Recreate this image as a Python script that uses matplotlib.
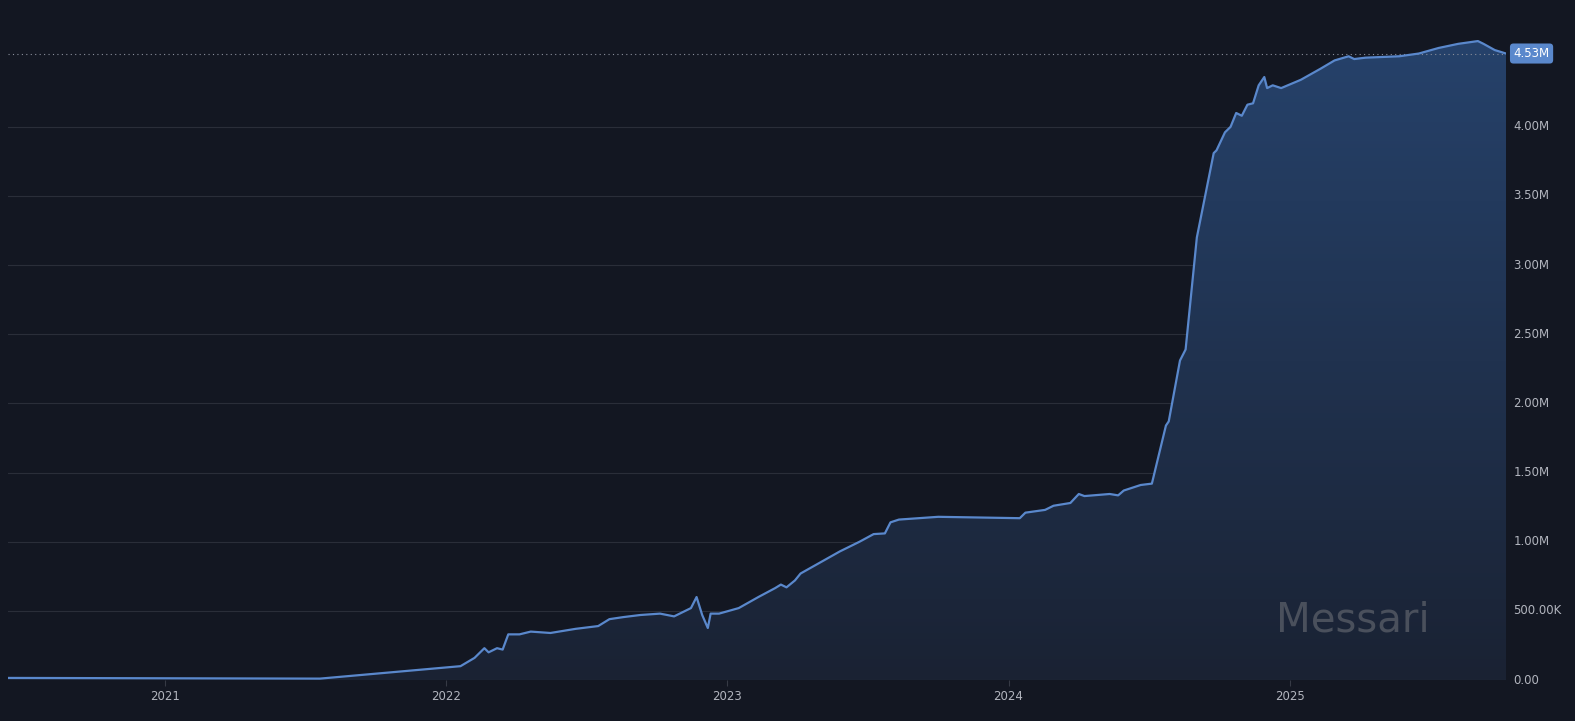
import numpy as np
import matplotlib.pyplot as plt
from matplotlib.patches import Polygon
from matplotlib.colors import LinearSegmentedColormap

# decimal years and values (millions)
years = [2020.44, 2021.55, 2022.05, 2022.10, 2022.135, 2022.15, 2022.18, 2022.20, 2022.22,
         2022.26, 2022.30, 2022.37, 2022.46, 2022.54, 2022.58, 2022.63, 2022.69, 2022.76,
         2022.81, 2022.85, 2022.87, 2022.89, 2022.91, 2022.93, 2022.94, 2022.97, 2023.04,
         2023.11, 2023.17, 2023.19, 2023.21, 2023.24, 2023.26, 2023.33, 2023.40, 2023.47,
         2023.52, 2023.56, 2023.58, 2023.61, 2023.68, 2023.75, 2024.04, 2024.06, 2024.13,
         2024.16, 2024.22, 2024.25, 2024.27, 2024.36, 2024.39, 2024.41, 2024.47, 2024.51,
         2024.56, 2024.57, 2024.61, 2024.63, 2024.67, 2024.73, 2024.74, 2024.77, 2024.79,
         2024.81, 2024.83, 2024.85, 2024.87, 2024.89, 2024.91, 2024.92, 2024.94, 2024.97,
         2025.04, 2025.11, 2025.16, 2025.21, 2025.23, 2025.27, 2025.39, 2025.46, 2025.53,
         2025.60, 2025.67, 2025.69, 2025.73, 2025.77]
values = [0.015, 0.01, 0.10, 0.16, 0.23, 0.20, 0.23, 0.22, 0.33,
          0.33, 0.35, 0.34, 0.37, 0.39, 0.44, 0.455, 0.47, 0.48,
          0.46, 0.50, 0.52, 0.60, 0.47, 0.376, 0.48, 0.48, 0.52,
          0.60, 0.665, 0.69, 0.67, 0.72, 0.77, 0.85, 0.93, 1.00,
          1.055, 1.06, 1.14, 1.16, 1.17, 1.18, 1.17, 1.21, 1.23,
          1.26, 1.28, 1.345, 1.33, 1.345, 1.335, 1.37, 1.41, 1.42,
          1.84, 1.87, 2.31, 2.39, 3.20, 3.81, 3.83, 3.96, 4.00,
          4.10, 4.08, 4.16, 4.17, 4.30, 4.36, 4.28, 4.30, 4.28,
          4.34, 4.42, 4.48, 4.51, 4.49, 4.50, 4.51, 4.53, 4.57,
          4.60, 4.62, 4.60, 4.555, 4.53]
year_ticks = [2021, 2022, 2023, 2024, 2025]
y_ticks = [0, 0.5, 1.0, 1.5, 2.0, 2.5, 3.0, 3.5, 4.0]
y_labels = ["0.00", "500.00K", "1.00M", "1.50M", "2.00M", "2.50M", "3.00M", "3.50M", "4.00M"]
last_label = "4.53M"

BG = "#131722"
LINE = "#5a88cc"
TXT = "#b2b5be"

x = np.array(years)
y = np.array(values)

fig = plt.figure(figsize=(15.75, 7.21), dpi=100, facecolor=BG)
ax = fig.add_axes([8 / 1575, 1 - 680 / 721, 1498 / 1575, 680 / 721])
ax.set_facecolor(BG)
ax.set_xlim(x[0], x[-1])
ax.set_ylim(0, 4.917)

# gradient fill under the line
grad = np.linspace(0, 1, 256).reshape(-1, 1)
cmap = LinearSegmentedColormap.from_list("g", ["#1a2233", "#26426b"])
im = ax.imshow(grad, aspect="auto", cmap=cmap, origin="lower",
               extent=[x[0], x[-1], 0, y.max()], zorder=1)
poly = Polygon(np.column_stack([np.r_[x[0], x, x[-1]], np.r_[0, y, 0]]),
               closed=True, transform=ax.transData, facecolor="none")
ax.add_patch(poly)
im.set_clip_path(poly)
ax.plot(x, y, color=LINE, lw=1.6, zorder=3)

for t in y_ticks[1:]:
    ax.axhline(t, color="#2a2e39", lw=0.8, zorder=0.5)
ax.axhline(0, color="#363a45", lw=0.8, zorder=2)
ax.axhline(y[-1], color="#8a8f9c", lw=0.8, ls=(0, (1, 3)), zorder=2)

for s in ax.spines.values():
    s.set_visible(False)
ax.set_xticks(year_ticks)
ax.set_xticklabels([str(t) for t in year_ticks])
ax.tick_params(axis="x", colors="#363a45", labelcolor=TXT, labelsize=8.5, length=4)
ax.set_yticks([])

for t, lab in zip(y_ticks, y_labels):
    ax.text(1.005, t, lab, transform=ax.get_yaxis_transform(), color=TXT,
            fontsize=8.5, va="center", ha="left")
ax.text(1.005, y[-1], last_label, transform=ax.get_yaxis_transform(), color="white",
        fontsize=8.5, va="center", ha="left",
        bbox=dict(boxstyle="round,pad=0.3", fc="#5a88cc", ec="none"))

# watermark
ax.text(0.898, 0.087, "Messari", transform=ax.transAxes, color="#4a505c",
        fontsize=29, ha="center", va="center", zorder=4)

fig.savefig("out.png", dpi=100, facecolor=BG)
